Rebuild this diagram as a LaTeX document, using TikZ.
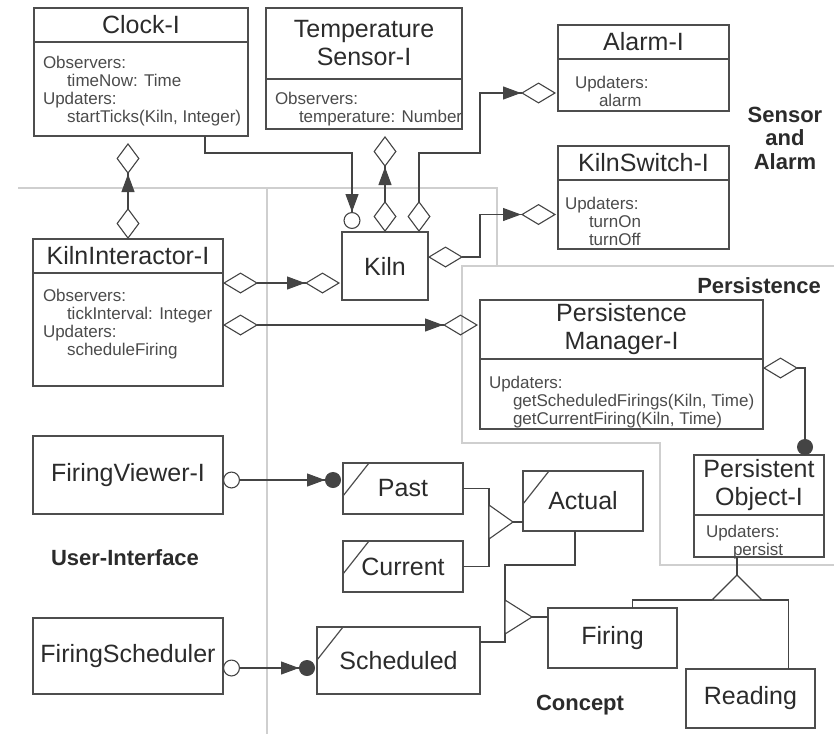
\documentclass[tikz,border=0pt]{standalone}
\usepackage{fontspec}
\setmainfont{Liberation Sans}
\usetikzlibrary{positioning, arrows.meta}

\definecolor{ink}{HTML}{2B2B2B}
\definecolor{edge}{HTML}{4D4D4D}
\definecolor{wire}{HTML}{444444}
\definecolor{fence}{HTML}{CFCFCF}

\newcommand{\ind}{\hspace*{24pt}}

\begin{document}
\begin{tikzpicture}[x = 1pt, y = -1pt,
    every node/.style = { text = ink, inner sep = 0pt, outer sep = 0pt },
    title/.style = { draw = edge, line width = 1.4pt, align = center, font = \fontsize{25}{28}\selectfont },
    body/.style = { draw = edge, line width = 1.4pt },
    members/.style = { align = left, anchor = north west, text = ink!85, font = \fontsize{17}{18}\selectfont },
    object/.style = { title, path picture = { \draw[edge, line width = 1.2pt] ([xshift = 26pt]path picture bounding box.north west) -- ([yshift = -33pt]path picture bounding box.north west); } },
    package/.style = { align = center, font = \fontsize{22}{23.5}\selectfont\bfseries },
    fence/.style = { draw = fence, line width = 1.6pt },
    wire/.style = { draw = wire, line width = 1.1pt },
    agg/.tip = { Diamond[open, length = 35pt, width = 21pt] },
    aggs/.tip = { Diamond[open, length = 35pt, width = 21pt, sep = 2pt] },
    vagg/.tip = { Diamond[open, length = 31pt, width = 23pt] },
    vaggs/.tip = { Diamond[open, length = 31pt, width = 23pt, sep = 7pt] },
    navi/.tip = { Triangle[length = 18pt, width = 13pt] },
    ring/.tip = { Circle[open, length = 17pt] },
    rings/.tip = { Circle[open, length = 17pt, sep = 3pt] },
    ball/.tip = { Circle[length = 16pt] },
    balls/.tip = { Circle[length = 16pt, sep = 2pt] }]

    \useasboundingbox (0, 0) rectangle (834, 734);

    \draw[fence] (18, 188) -- (497, 188) -- (497, 266);
    \draw[fence] (834, 266) -- (462, 266) -- (462, 443) -- (660, 443) -- (660, 565) -- (834, 565);
    \draw[fence] (267, 188) -- (267, 734);

    \node[title, minimum width = 214pt, minimum height = 34pt] (clockT) at (141, 25) {Clock-I};
    \node[body, minimum width = 214pt, minimum height = 94pt, below = 0pt of clockT] (clockB) {};
    \node[members, below right = 14pt and 9pt of clockB.north west] (clockM) {Observers:\\\ind timeNow: Time\\Updaters:\\\ind startTicks(Kiln, Integer)};

    \node[title, minimum width = 196pt, minimum height = 71pt] (tempT) at (364, 43.5) {Temperature\\Sensor-I};
    \node[body, minimum width = 196pt, minimum height = 50pt, below = 0pt of tempT] (tempB) {};
    \node[members, below right = 13pt and 9pt of tempB.north west] (tempM) {Observers:\\\ind temperature: Number};

    \node[title, minimum width = 171pt, minimum height = 34pt] (alarmT) at (643.5, 42) {Alarm-I};
    \node[body, minimum width = 171pt, minimum height = 52pt, below = 0pt of alarmT] (alarmB) {};
    \node[members, below right = 17pt and 17pt of alarmB.north west] (alarmM) {Updaters:\\\ind alarm};

    \node[title, minimum width = 171pt, minimum height = 34pt] (switchT) at (643.5, 163) {KilnSwitch-I};
    \node[body, minimum width = 171pt, minimum height = 69pt, below = 0pt of switchT] (switchB) {};
    \node[members, below right = 17pt and 7pt of switchB.north west] (switchM) {Updaters:\\\ind turnOn\\\ind turnOff};

    \node[package] (sensorLbl) at (785, 138) {Sensor\\and\\Alarm};

    \node[title, minimum width = 190pt, minimum height = 34pt] (kiT) at (128, 256) {KilnInteractor-I};
    \node[body, minimum width = 190pt, minimum height = 113pt, below = 0pt of kiT] (kiB) {};
    \node[members, below right = 16pt and 10pt of kiB.north west] (kiM) {Observers:\\\ind tickInterval: Integer\\Updaters:\\\ind scheduleFiring};

    \node[title, minimum width = 86pt, minimum height = 68pt] (kiln) at (385, 266) {Kiln};

    \node[package] (persistLbl) at (759, 286) {Persistence};

    \node[title, minimum width = 283pt, minimum height = 59pt] (pmT) at (621.5, 329.5) {Persistence\\Manager-I};
    \node[body, minimum width = 283pt, minimum height = 70pt, below = 0pt of pmT] (pmB) {};
    \node[members, below right = 17pt and 9pt of pmB.north west] (pmM) {Updaters:\\\ind getScheduledFirings(Kiln, Time)\\\ind getCurrentFiring(Kiln, Time)};

    \node[title, minimum width = 130pt, minimum height = 60pt] (poT) at (759, 485) {Persistent\\Object-I};
    \node[body, minimum width = 130pt, minimum height = 42pt, below = 0pt of poT] (poB) {};
    \node[members, below right = 10pt and 12pt of poB.north west] (poM) {Updaters:\\\hspace*{27pt}persist};

    \node[title, minimum width = 190pt, minimum height = 78pt] (fv) at (128, 475) {FiringViewer-I};
    \node[title, minimum width = 190pt, minimum height = 76pt] (fs) at (128, 656) {FiringScheduler};
    \node[package] (uiLbl) at (125, 558) {User-Interface};

    \node[object, minimum width = 120pt, minimum height = 51pt] (past) at (403, 488.5) {Past};
    \node[object, minimum width = 120pt, minimum height = 51pt] (current) at (403, 566.5) {Current};
    \node[object, minimum width = 120pt, minimum height = 60pt] (actual) at (583, 501) {Actual};
    \node[object, minimum width = 163pt, minimum height = 67pt] (scheduled) at (398.5, 660.5) {Scheduled};
    \node[title, minimum width = 129pt, minimum height = 60pt] (firing) at (612.5, 638) {Firing};
    \node[title, minimum width = 129pt, minimum height = 59pt] (reading) at (750.5, 698.5) {Reading};
    \node[package] (conceptLbl) at (580, 705) {Concept};

    \draw[wire, -{navi[] rings[]}] ([xshift = 64pt]clockB.south) -- ++(0, 17) -| ([xshift = 10pt]kiln.north west);
    \draw[wire, {vagg[]}-{navi[] vaggs[]}] (kiln.north) -- (kiln.north |- tempB.south);
    \draw[wire, {vagg[]}-{navi[] aggs[]}] ([xshift = 34pt]kiln.north) |- (480, 153) |- ([yshift = -8pt]alarmB.west);
    \draw[wire, {agg[]}-{navi[] aggs[]}] ([yshift = 9pt]kiln.east) -- ++(52, 0) |- (switchB.west);
    \draw[wire, {vagg[]}-{navi[] vaggs[]}] (kiT.north) -- (kiT.north |- clockB.south);

    \coordinate (kiP1) at ([yshift = -10pt]kiB.north east);
    \coordinate (kiP2) at ([yshift = -52pt]kiB.north east);
    \draw[wire, {agg[]}-{navi[] aggs[]}] (kiP1) -- (kiP1 -| kiln.west);
    \draw[wire, {agg[]}-{navi[] aggs[]}] (kiP2) -- (kiP2 -| pmT.west);
    \draw[wire, {agg[]}-{ball[]}] ([yshift = -9pt]pmB.north east) -| ([xshift = -19pt]poT.north east);

    \coordinate (fvP) at ([yshift = -5pt]fv.east);
    \coordinate (fsP) at ([yshift = -12pt]fs.east);
    \draw[wire, {ring[]}-{navi[] balls[]}] (fvP) -- (fvP -| past.west);
    \draw[wire, {ring[]}-{navi[] balls[]}] (fsP) -- (fsP -| scheduled.west);

    \coordinate (g1) at (513, 522);
    \coordinate (g2) at (532, 617);
    \coordinate (g3) at (737, 575);
    \draw[wire] (past.east) -| ([xshift = -24pt]g1) |- (current.east);
    \draw[wire] (g1) -- (g1 -| actual.west);
    \draw[wire, fill = white] (g1) -- ++(-24, -17) -- ++(0, 34) -- cycle;
    \draw[wire] ([xshift = -8pt]actual.south) -- ++(0, 34) -| ([xshift = -27pt]g2) |- ([yshift = 18.5pt]scheduled.east);
    \draw[wire] (g2) -- (g2 -| firing.west);
    \draw[wire, fill = white] (g2) -- ++(-27, -17) -- ++(0, 34) -- cycle;
    \draw[wire] (g3) -- (g3 |- poB.south);
    \draw[wire] ([xshift = 20pt]firing.north) |- ([yshift = -25pt]g3) -| ([xshift = 38pt]reading.north);
    \draw[wire, fill = white] (g3) -- ++(-25, 25) -- ++(50, 0) -- cycle;
\end{tikzpicture}
\end{document}
